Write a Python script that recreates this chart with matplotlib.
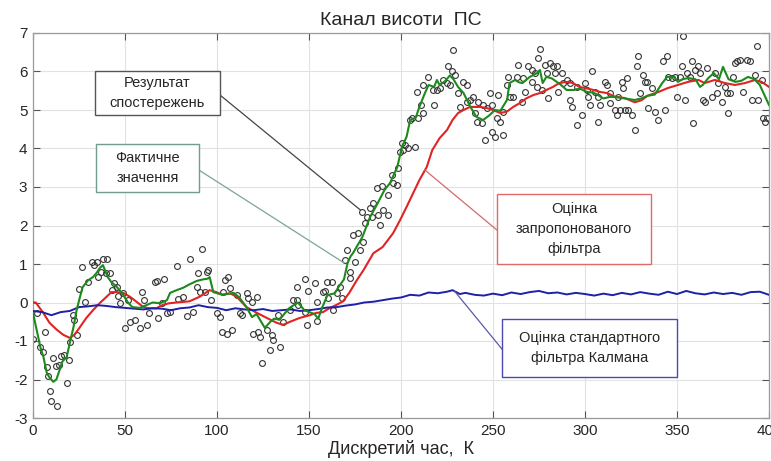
import matplotlib.pyplot as plt
from matplotlib.patches import Rectangle

plt.rcParams['font.family'] = ['Liberation Sans Narrow', 'Liberation Sans', 'DejaVu Sans']
plt.rcParams['axes.unicode_minus'] = False

# Фактичне значення (зелена лінія)
gk = [0, 2, 4, 5.6, 7.5, 9, 11, 12.7, 14.5, 16, 18.3, 20, 22, 23.7, 25.5, 27, 30, 32.6, 34.6,
      36.4, 38, 39.5, 40.6, 42.6, 44.5, 46, 49, 51.6, 54, 58, 62, 65, 69, 72.8, 74.5, 78, 81.5,
      85, 89, 92.4, 95, 96, 98, 103, 109, 112, 116, 119, 121.5, 126, 129, 131, 134, 137, 140,
      144, 147.5, 153, 155, 157, 160, 164, 166, 169, 171, 172.6, 174, 179, 183, 187, 191, 194,
      198, 200.5, 203, 205, 208, 210, 213, 215, 218, 219.5, 221, 224, 226.6, 228.5, 231, 234,
      237.5, 241, 244.6, 248, 251, 254, 257.6, 259, 262, 264, 266, 270, 274, 275.5, 277, 279,
      282, 284.6, 287, 290, 294, 297, 301, 304.6, 307, 310, 313.5, 316, 321.7, 327, 330.6, 334,
      337.9, 342, 344.6, 348.5, 350.5, 353, 356, 360, 362.5, 364, 367, 370, 372.8, 375, 378,
      381.7, 385, 388.6, 392, 395, 398, 400]
gv = [-0.27, -0.71, -1.16, -1.4, -1.83, -1.95, -2.06, -2.0, -1.75, -1.53, -1.42, -1.05, -0.64,
      -0.2, 0.14, 0.4, 0.58, 0.66, 0.77, 0.9, 0.97, 0.8, 0.66, 0.53, 0.45, 0.38, 0.2, 0.0, -0.12,
      -0.14, -0.06, 0.0, -0.02, 0.06, 0.25, 0.32, 0.38, 0.47, 0.56, 0.6, 0.62, 0.66, 0.27, 0.2,
      0.25, 0.14, -0.12, -0.38, -0.3, -0.66, -0.5, -0.42, -0.45, -0.27, -0.12, 0.0, -0.2, -0.3,
      -0.42, -0.15, 0.19, 0.24, 0.4, 0.6, 1.03, 1.2, 1.29, 1.7, 2.2, 2.55, 2.92, 3.1, 3.52, 4.04,
      4.3, 4.74, 4.8, 5.08, 5.44, 5.65, 5.6, 5.78, 5.65, 5.75, 5.9, 5.8, 5.6, 5.44, 5.1, 4.82,
      4.74, 4.86, 5.0, 4.98, 5.26, 5.7, 5.78, 5.72, 5.7, 5.86, 5.96, 6.04, 5.7, 5.86, 5.82, 5.73,
      5.65, 5.52, 5.52, 5.56, 5.47, 5.45, 5.39, 5.3, 5.34, 5.34, 5.3, 5.26, 5.3, 5.37, 5.4, 5.7,
      5.86, 5.86, 5.73, 5.8, 5.83, 5.8, 5.6, 5.65, 5.83, 5.96, 5.8, 6.12, 5.8, 5.73, 5.76, 5.86,
      5.8, 5.65, 5.34, 5.13]

# Оцінка запропонованого фільтра (червона лінія)
rk = [0, 1.5, 5.6, 9, 13, 16.5, 20, 22.5, 25.5, 29, 32.6, 36.4, 40, 42.6, 45.5, 49, 52.7, 56.5,
      60, 63.4, 67, 70.6, 74, 78, 85, 90.6, 96, 99.6, 103, 107, 110.7, 116, 121.7, 127, 132.6,
      136, 139.7, 145, 150.5, 154, 157.6, 161, 165, 168.5, 172, 176, 179.6, 185, 190, 195.7,
      199.5, 203, 206.6, 210, 214, 217, 221, 225, 228, 231, 234, 237.5, 243, 246.6, 250, 254,
      257.6, 261, 264.6, 268, 272, 275.5, 279, 282.6, 286, 290, 293.5, 297, 301, 304.6, 308,
      312, 316, 321.7, 327, 330.6, 334, 340, 345, 350.5, 356, 361.7, 365, 370.6, 376, 381.5,
      387, 392.4, 396, 400]
rv = [0.0, 0.0, -0.27, -0.53, -0.71, -0.84, -0.92, -0.84, -0.64, -0.4, -0.2, -0.01, 0.15, 0.27,
      0.27, 0.25, 0.15, 0.01, -0.12, -0.15, -0.15, -0.06, -0.02, 0.0, 0.03, 0.15, 0.32, 0.27,
      0.2, 0.24, 0.15, -0.12, -0.27, -0.4, -0.53, -0.58, -0.5, -0.4, -0.33, -0.27, -0.25, -0.15,
      -0.06, 0.03, 0.26, 0.58, 0.84, 1.28, 1.44, 1.8, 2.14, 2.48, 2.84, 3.18, 3.52, 3.96, 4.27,
      4.48, 4.74, 4.92, 5.0, 5.08, 5.08, 5.05, 5.0, 4.92, 4.96, 5.08, 5.18, 5.3, 5.39, 5.44,
      5.52, 5.6, 5.7, 5.73, 5.7, 5.6, 5.56, 5.52, 5.47, 5.44, 5.35, 5.31, 5.2, 5.25, 5.37,
      5.47, 5.57, 5.65, 5.73, 5.78, 5.7, 5.78, 5.7, 5.65, 5.7, 5.78, 5.73, 5.6]

# Оцінка стандартного фільтра Калмана (синя лінія)
bk = [0, 5, 10, 15, 20, 25, 30, 35, 40, 45, 50, 55, 60, 65, 70, 75, 80, 85, 90, 95, 100, 105,
      110, 115, 120, 125, 130, 135, 140, 145, 150, 155, 160, 165, 170, 175, 180, 185, 190, 195,
      200, 205, 210, 215, 220, 225, 228, 232, 235, 240, 245, 250, 255, 260, 265, 270, 275, 280,
      285, 290, 295, 300, 305, 310, 315, 320, 325, 330, 335, 340, 345, 350, 355, 360, 365, 370,
      375, 380, 385, 390, 395, 400]
bv = [-0.22, -0.25, -0.33, -0.25, -0.22, -0.12, -0.1, -0.07, -0.09, -0.12, -0.14, -0.16, -0.18,
      -0.15, -0.16, -0.2, -0.15, -0.13, -0.07, -0.12, -0.14, -0.2, -0.15, -0.18, -0.2, -0.17,
      -0.22, -0.2, -0.18, -0.22, -0.2, -0.17, -0.13, -0.12, -0.08, -0.05, 0.0, 0.02, 0.06, 0.1,
      0.13, 0.2, 0.18, 0.26, 0.24, 0.28, 0.32, 0.22, 0.25, 0.2, 0.18, 0.23, 0.19, 0.26, 0.22,
      0.27, 0.3, 0.24, 0.26, 0.21, 0.25, 0.22, 0.18, 0.23, 0.19, 0.25, 0.21, 0.27, 0.23, 0.2,
      0.28, 0.22, 0.3, 0.24, 0.21, 0.26, 0.22, 0.25, 0.2, 0.27, 0.28, 0.2]

# Результат спостережень (кружечки)
ok = [0, 2, 3.8, 5.3, 6.5, 7.4, 8.3, 9.2, 10, 11, 12.5, 13.2, 14.3, 15.2, 17, 18.7, 19.7, 20,
      21.6, 22.3, 23.7, 25.2, 26.4, 28.3, 30, 31.9, 33.3, 34.6, 35.5, 36.8, 38.2, 39.7, 40.4,
      41.8, 42.8, 44, 45.5, 46.4, 47.3, 49, 50.2, 51.8, 52.7, 55.4, 58.2, 59, 60.5, 62, 63.2,
      66.3, 67.2, 68, 70, 71.4, 72.6, 74.5, 78, 79, 81.7, 83.5, 85.5, 87, 88.9, 89.8, 90.7,
      91.6, 93.5, 94.4, 95.3, 97, 99.8, 101.6, 102.5, 103.4, 104.3, 105.2, 106.1, 107, 108,
      110.7, 112.5, 113.4, 116.1, 117, 118.8, 119.7, 121.5, 122.4, 123.3, 124.2, 127, 128.8,
      129.7, 130.6, 133.3, 134.2, 136, 139.6, 141.5, 143.3, 143.3, 144.2, 147.8, 147.8, 148.7,
      149.6, 153.2, 154.1, 154.1, 157.8, 158.7, 159.6, 160.5, 162.3, 163.2, 165, 166.8, 167.7,
      169.6, 170.5, 172.3, 172.3, 174.1, 175, 176.8, 177.7, 178.6, 179.5, 180.4, 181.3, 183.1,
      184, 185, 186.8, 187.7, 188.6, 189.5, 190.4, 193.1, 193.1, 194.9, 195.8, 197.6, 198.5,
      199.4, 200.3, 201.3, 202.2, 204, 204.9, 205.8, 207.6, 208.5, 209.4, 210.7, 212.1, 212.1,
      214.8, 217.6, 217.9, 219.4, 221.2, 223, 224.8, 225.7, 226.6, 227.5, 228, 229.3, 231.1,
      232, 233.9, 235.7, 235.7, 237.5, 239.3, 240.2, 241.1, 242, 243.8, 244.7, 245.7, 246.6,
      248.4, 249.3, 249.3, 251.1, 252, 252.9, 253.8, 255.6, 255.6, 257.4, 258.3, 259.2, 261,
      262.9, 263.8, 265.6, 266.5, 267.4, 269.2, 271, 271, 272.8, 273.7, 274.6, 275.5, 276.4,
      278.3, 279.2, 280.1, 281, 282.8, 283.7, 284.6, 285.5, 287.3, 288.2, 290, 291.8, 291.8,
      292.8, 295.5, 295.5, 298.2, 300, 300.9, 301.8, 302.7, 303.6, 305.4, 307.2, 307.2, 308.2,
      310.9, 311.8, 313.6, 313.6, 316.3, 317.3, 318.1, 319, 319.9, 320.8, 321.7, 322.6, 323.5,
      325.4, 327.2, 328.1, 329, 329.9, 331.7, 332.6, 333.5, 334.4, 336.2, 338, 339.8, 342.6,
      343.5, 344.4, 345.3, 347.1, 348.9, 349.8, 351.6, 352.5, 353.4, 354.3, 355.3, 357.1, 358,
      358.9, 359.8, 361.6, 362.5, 364.3, 365.2, 366.1, 368.8, 370.6, 371.6, 372.5, 374.3, 376.1,
      377, 377.9, 378.8, 380.6, 381.5, 382.4, 384.2, 386, 387.9, 389.7, 390.6, 392.4, 393.3,
      394.2, 396, 396.9, 397.8, 398.7]
ov = [-0.94, -0.28, -1.15, -1.28, -0.76, -1.68, -1.9, -2.31, -2.55, -1.43, -1.65, -2.68, -1.63,
      -1.4, -1.37, -2.09, -1.5, -1.02, -0.33, -0.45, -0.85, 0.34, 0.91, 0.02, 0.54, 1.05, 0.98,
      1.06, 0.67, 0.8, 1.12, 0.76, 1.12, 0.76, 0.32, 0.5, 0.41, 0.17, -0.02, 0.24, -0.65, 0.06,
      -0.5, -0.46, -0.65, 0.26, 0.06, -0.59, -0.28, 0.54, 0.56, -0.41, 0.0, 0.6, -0.28, -0.24,
      0.95, 0.1, 0.15, -0.35, 1.12, -0.24, 0.41, 0.76, 0.28, 1.38, 0.28, 0.8, 0.85, 0.06, -0.28,
      -0.37, -0.76, 0.28, 0.59, -0.81, 0.65, 0.37, -0.72, 0.19, -0.28, -0.33, 0.24, 0.11, 0.02,
      -0.81, 0.15, -0.76, -0.89, -1.57, -0.72, -1.24, -0.85, -0.98, -0.33, -1.15, -0.5, -0.2,
      0.06, 0.06, 0.41, -0.07, 0.6, -0.24, -0.59, 0.31, 0.5, 0.02, -0.48, 0.26, 0.3, 0.52, 0.11,
      0.54, -0.19, 0.24, 0.41, 0.11, 1.1, 1.37, 0.63, 0.8, 1.75, 1.06, 1.81, 1.37, 2.36, 1.58,
      2.06, 2.23, 2.45, 2.23, 2.58, 2.97, 2.27, 2.01, 3.03, 2.4, 2.27, 2.79, 3.31, 3.1, 3.05,
      3.49, 3.92, 4.14, 3.96, 4.09, 4.01, 4.74, 4.78, 4.03, 5.48, 4.78, 5.13, 5.65, 4.91, 5.87,
      5.52, 5.13, 5.52, 5.56, 5.78, 5.69, 6.13, 5.65, 6.0, 6.57, 5.91, 5.43, 5.09, 5.74, 5.65,
      5.22, 5.26, 5.35, 4.92, 4.7, 5.22, 4.66, 5.13, 4.22, 5.05, 5.43, 5.13, 4.44, 4.31, 4.79,
      5.39, 4.7, 4.35, 4.96, 5.65, 5.87, 5.35, 5.35, 5.87, 6.17, 5.22, 5.82, 5.48, 6.13, 6.04,
      5.74, 5.95, 5.61, 6.34, 6.58, 5.52, 6.17, 5.95, 5.3, 6.21, 6.13, 5.95, 6.13, 5.48, 5.95,
      5.69, 5.78, 5.26, 5.69, 5.09, 5.61, 4.61, 4.87, 5.69, 5.52, 5.35, 5.13, 6.0, 5.48, 5.35,
      4.7, 5.13, 5.74, 5.65, 5.43, 5.17, 5.0, 4.87, 5.35, 5.0, 5.74, 5.56, 5.0, 5.82, 5.0, 4.87,
      4.48, 6.13, 6.39, 5.43, 5.91, 5.74, 5.74, 5.05, 5.56, 4.96, 4.74, 6.26, 5.0, 6.4, 5.87,
      5.82, 5.87, 5.35, 5.87, 6.13, 6.91, 5.26, 5.95, 5.87, 6.26, 4.66, 6.04, 6.13, 5.95, 5.26,
      5.22, 6.08, 5.35, 5.95, 5.43, 5.69, 5.22, 5.61, 5.43, 4.92, 5.43, 5.87, 6.21, 6.26, 6.3,
      5.48, 6.3, 6.26, 5.26, 5.91, 6.66, 5.26, 5.78, 4.79, 4.7, 4.79]

fig = plt.figure(figsize=(7.71, 4.61), dpi=100)
ax = fig.add_axes([33 / 771, 1 - 418 / 461, 736 / 771, 385 / 461])

ax.plot(ok, ov, 'o', ms=4.2, mfc='none', mec='#333333', mew=0.8, zorder=2)
ax.plot(rk, rv, color='#e02424', lw=1.5, zorder=3)
ax.plot(bk, bv, color='#1f1fa8', lw=1.4, zorder=3)
ax.plot(gk, gv, color='#1c8a1c', lw=1.5, zorder=4)

ax.set_xlim(0, 400)
ax.set_ylim(-3, 7)
ax.set_xticks(range(0, 401, 50))
ax.set_yticks(range(-3, 8))
ax.grid(True, color='#e2e2e2', lw=0.8)
ax.set_axisbelow(True)
ax.tick_params(direction='in', top=True, right=True, length=5, color='#555555',
               labelsize=11, labelcolor='#262626', pad=4)
for s in ax.spines.values():
    s.set_color('#9a9a9a')
    s.set_linewidth(0.9)

ax.set_title('Канал висоти  ПС', fontsize=14, color='#262626', pad=6)
ax.set_xlabel('Дискретий час,  К', fontsize=13, color='#262626', labelpad=2)

# підписи з рамками та виносками
boxes = [
    ('Результат\nспостережень', 33.7, 4.87, 67.9, 1.14, '#555555', (101.6, 5.39), (178, 2.4), '#444444'),
    ('Фактичне\nзначення', 34.2, 2.87, 56.0, 1.25, '#6f9c8c', (90.2, 3.44), (169, 1.03), '#7aa597'),
    ('Оцінка\nзапропонованого\nфільтра', 252.2, 1.0, 83.7, 1.82, '#e06a6a', (252.2, 1.88), (213, 3.44), '#d46a6a'),
    ('Оцінка стандартного\nфільтра Калмана', 254.9, -1.94, 95.1, 1.51, '#4a4ab0', (254.9, -1.21), (229, 0.3), '#5a5aa8'),
]
for txt, x0, y0, w, h, ec, p0, p1, lc in boxes:
    ax.plot([p0[0], p1[0]], [p0[1], p1[1]], color=lc, lw=0.9, zorder=5)
    ax.add_patch(Rectangle((x0, y0), w, h, fc='white', ec=ec, lw=1.0, zorder=6))
    ax.text(x0 + w / 2, y0 + h / 2, txt, ha='center', va='center', fontsize=10.5,
            color='#262626', linespacing=1.55, zorder=7)

fig.savefig('out.png', dpi=100)
